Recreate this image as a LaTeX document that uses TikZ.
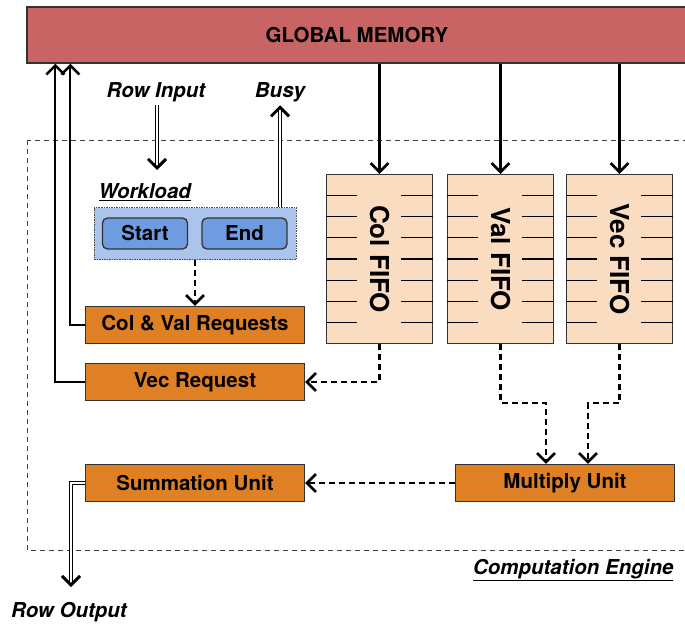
\documentclass[tikz,border=0pt]{standalone}
\usepackage{fontspec}
\setmainfont{TeX Gyre Heros}
\usetikzlibrary{arrows.meta,calc}

\definecolor{memred}{RGB}{200,100,100}
\definecolor{unitorange}{RGB}{224,128,36}
\definecolor{fifopeach}{RGB}{250,220,192}
\definecolor{wlblue}{RGB}{170,196,235}
\definecolor{btnblue}{RGB}{110,156,222}
\newcommand\unitfont{\fontsize{20.5}{24}\selectfont\bfseries}
\newcommand\fifofont{\fontsize{26}{30}\selectfont\bfseries}

\begin{document}
\begin{tikzpicture}[x=1pt,y=-1pt,
  blockbox/.style={draw=black!80, line width=1.3pt, inner sep=0pt, font=\unitfont},
  unitbox/.style={blockbox, fill=unitorange, minimum width=219pt, minimum height=37pt},
  fifobox/.style={blockbox, fill=fifopeach, minimum width=106pt, minimum height=169pt},
  btnbox/.style={blockbox, fill=btnblue, rounded corners=5pt, minimum width=85pt, minimum height=31pt},
  fifotext/.style={rotate=-90, font=\fifofont},
  tag/.style={font=\unitfont\itshape},
  arr/.style={line width=2.2pt, -{Straight Barb[length=9pt,width=18pt,line width=2.6pt]}},
  darr/.style={arr, dash pattern=on 6pt off 4pt},
  dblarr/.style={line width=1pt, double=white, double distance=1.8pt,
    -{Straight Barb[length=9pt,width=18pt,line width=3pt]}},
  tick/.style={line width=1.1pt}]
\useasboundingbox (0,0) rectangle (685,626);

% Computation engine
\draw[black!75, line width=1pt, dash pattern=on 5pt off 4pt] (27,140) rectangle (690,550);
\node[tag, anchor=east] (cename) at (677,570) {\underline{Computation Engine}};

% Global memory
\node[blockbox, fill=memred, minimum width=660pt, minimum height=56pt] (mem) at (357,35) {GLOBAL MEMORY};

% Inputs and outputs
\node[tag] (rowin) at (156,92) {Row Input};
\node[tag] (busy) at (280,92) {Busy};
\node[tag] (rowout) at (69,612) {Row Output};
\coordinate (rowinend) at (157,170);
\coordinate (rowoutend) at (71,587);

% Workload
\node[blockbox, fill=wlblue, draw=black!70, line width=0.9pt, dash pattern=on 1.5pt off 1pt,
  minimum width=202pt, minimum height=52pt] (wl) at (195,233.5) {};
\node[tag, anchor=west] (wlname) at (95,192) {\underline{Workload}};
\node[btnbox] (start) at (145,233.5) {Start};
\node[btnbox] (end) at (244.5,233.5) {End};

% Requests
\node[unitbox] (colval) at (195,325) {Col \& Val Requests};
\node[unitbox] (vecreq) at (195,382) {Vec Request};

% FIFOs
\node[fifobox] (colfifo) at (379.5,259) {};
\node[fifobox] (valfifo) at (500.5,259) {};
\node[fifobox] (vecfifo) at (619.5,259) {};
\node[fifotext] at (colfifo.center) {Col FIFO};
\node[fifotext] at (valfifo.center) {Val FIFO};
\node[fifotext] at (vecfifo.center) {Vec FIFO};
\foreach \f in {colfifo,valfifo,vecfifo}
  \foreach \k in {1,...,7} {
    \draw[tick] ($(\f.north west)!\k/8!(\f.south west)$) -- ++(31,0);
    \draw[tick] ($(\f.north east)!\k/8!(\f.south east)$) -- ++(-32,0);
  }

% Units
\node[unitbox] (mult) at (565,483) {Multiply Unit};
\node[unitbox] (sum) at (195,483) {Summation Unit};

% Connectors
\draw[arr] (vecreq.west) -| ([xshift=29pt]mem.south west);
\draw[arr] (colval.west) -| ([xshift=44pt]mem.south west);
\draw[dblarr] (rowin.south -| rowinend) -- (rowinend);
\draw[dblarr] (wl.north -| busy.south) -- (busy.south);
\draw[darr] (wl.south) -- (colval.north);

\draw[arr] (mem.south -| colfifo.north) -- (colfifo.north);
\draw[arr] (mem.south -| valfifo.north) -- (valfifo.north);
\draw[arr] (mem.south -| vecfifo.north) -- (vecfifo.north);

\draw[darr] (colfifo.south) |- (vecreq.east);
\draw[darr] (valfifo.south) -- ++(0,59) -| ([xshift=-19pt]mult.north);
\draw[darr] (vecfifo.south) -- ++(0,59) -| ([xshift=23pt]mult.north);
\draw[darr] (mult.west) -- (sum.east);
\draw[dblarr] (sum.west) -| (rowoutend);

\end{tikzpicture}
\end{document}
